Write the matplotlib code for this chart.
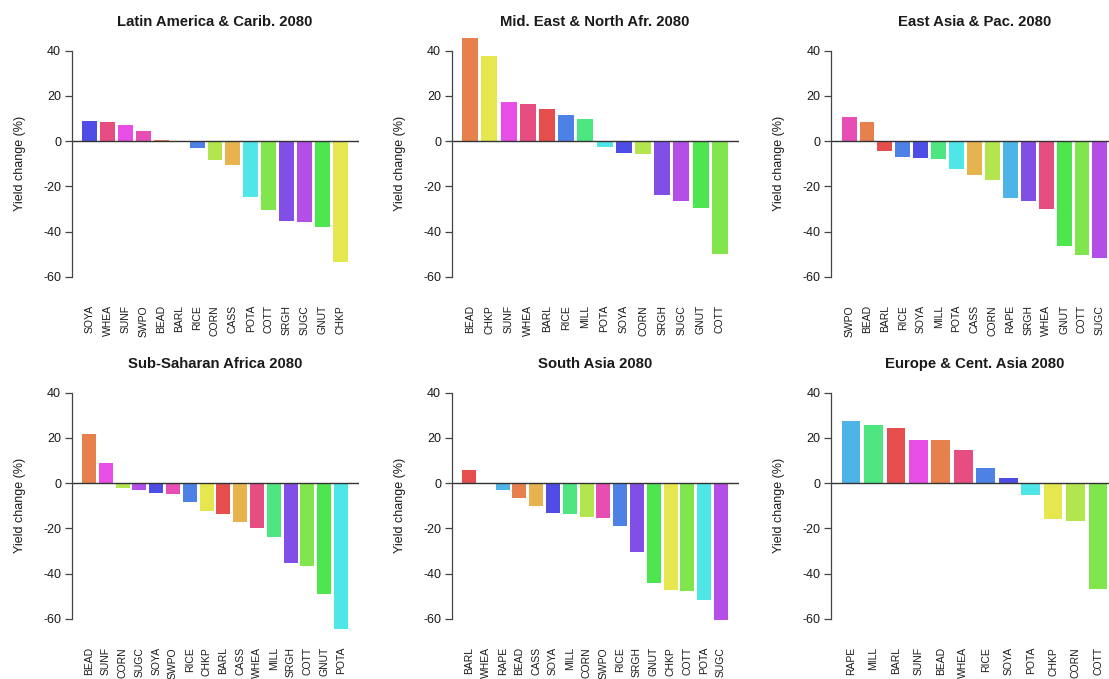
import colorsys
import numpy as np
import matplotlib
matplotlib.use("Agg")
import matplotlib.pyplot as plt

plt.rcParams['font.family'] = ['Liberation Sans', 'DejaVu Sans']
plt.rcParams['axes.unicode_minus'] = False

# crop list (alphabetical); hue index in an 18-step rainbow (160 deg unused)
crops_all = ['BARL', 'BEAD', 'CASS', 'CHKP', 'CORN', 'COTT', 'GNUT', 'MILL', 'POTA',
             'RAPE', 'RICE', 'SOYA', 'SRGH', 'SUGC', 'SUNF', 'SWPO', 'WHEA']
hue_idx = [0, 1, 2, 3, 4, 5, 6, 7, 9, 10, 11, 12, 13, 14, 15, 16, 17]

latam_crops = ['SOYA', 'WHEA', 'SUNF', 'SWPO', 'BEAD', 'BARL', 'RICE', 'CORN', 'CASS',
               'POTA', 'COTT', 'SRGH', 'SUGC', 'GNUT', 'CHKP']
latam_vals = [9.0, 8.5, 7.1, 4.3, 0.6, 0.1, -2.9, -8.5, -10.7, -24.6, -30.3, -35.4,
              -35.7, -38.1, -53.4]

mena_crops = ['BEAD', 'CHKP', 'SUNF', 'WHEA', 'BARL', 'RICE', 'MILL', 'POTA', 'SOYA',
              'CORN', 'SRGH', 'SUGC', 'GNUT', 'COTT']
mena_vals = [45.4, 37.8, 17.2, 16.2, 14.1, 11.5, 9.7, -2.4, -5.1, -5.9, -23.7, -26.5,
             -29.7, -49.9]

eap_crops = ['SWPO', 'BEAD', 'BARL', 'RICE', 'SOYA', 'MILL', 'POTA', 'CASS', 'CORN',
             'RAPE', 'SRGH', 'WHEA', 'GNUT', 'COTT', 'SUGC']
eap_vals = [10.6, 8.5, -4.3, -6.9, -7.4, -7.8, -12.2, -15.0, -17.1, -25.0, -26.5,
            -30.0, -46.3, -50.4, -51.9]

ssa_crops = ['BEAD', 'SUNF', 'CORN', 'SUGC', 'SOYA', 'SWPO', 'RICE', 'CHKP', 'BARL',
             'CASS', 'WHEA', 'MILL', 'SRGH', 'COTT', 'GNUT', 'POTA']
ssa_vals = [21.6, 9.1, -2.2, -3.2, -4.4, -4.7, -8.5, -12.5, -13.7, -17.1, -19.7,
            -24.0, -35.1, -36.8, -48.8, -64.7]

sas_crops = ['BARL', 'WHEA', 'RAPE', 'BEAD', 'CASS', 'SOYA', 'MILL', 'CORN', 'SWPO',
             'RICE', 'SRGH', 'GNUT', 'CHKP', 'COTT', 'POTA', 'SUGC']
sas_vals = [6.0, 0.1, -2.8, -6.5, -9.9, -13.2, -13.7, -15.0, -15.4, -19.1, -30.4,
            -44.1, -47.1, -47.6, -51.5, -60.4]

eca_crops = ['RAPE', 'MILL', 'BARL', 'SUNF', 'BEAD', 'WHEA', 'RICE', 'SOYA', 'POTA',
             'CHKP', 'CORN', 'COTT']
eca_vals = [27.4, 25.6, 24.4, 19.0, 19.0, 14.6, 6.9, 2.5, -5.3, -15.9, -16.6, -46.9]

panels = [
    ('Latin America & Carib. 2080', latam_crops, latam_vals),
    ('Mid. East & North Afr. 2080', mena_crops, mena_vals),
    ('East Asia & Pac. 2080', eap_crops, eap_vals),
    ('Sub-Saharan Africa 2080', ssa_crops, ssa_vals),
    ('South Asia 2080', sas_crops, sas_vals),
    ('Europe & Cent. Asia 2080', eca_crops, eca_vals),
]

colors = {}
for c, h in zip(crops_all, hue_idx):
    colors[c] = colorsys.hsv_to_rgb(h / 18, 0.66, 0.9)

W, H = 1109, 679
fig = plt.figure(figsize=(W / 100, H / 100), dpi=100)

lefts = [71.5, 451.5, 831.0]
tops = [29.4, 371.5]
aw, ah = 287.0, 268.6
txt = '#1a1a1a'

for k, (title, crops, vals) in enumerate(panels):
    r, c = divmod(k, 3)
    ax = fig.add_axes([lefts[c] / W, 1 - (tops[r] + ah) / H, aw / W, ah / H])
    n = len(crops)
    x = 0.7 + 1.2 * np.arange(n)
    span = 1.2 * n - 0.2
    ax.bar(x, vals, width=1.0, color=[colors[cr] for cr in crops], linewidth=0)
    ax.set_xlim(0.2 - 0.04 * span, 1.2 * n + 0.04 * span)
    ax.set_ylim(-69.4, 49.4)
    ax.axhline(0, color='#333333', lw=1.0)
    for s in ['top', 'right', 'bottom']:
        ax.spines[s].set_visible(False)
    ax.spines['left'].set_bounds(-60, 40)
    ax.spines['left'].set_color('#444444')
    ax.spines['left'].set_linewidth(0.9)
    ax.set_yticks([-60, -40, -20, 0, 20, 40])
    ax.tick_params(axis='y', length=5, width=0.9, color='#444444', pad=2.5,
                   labelsize=9, labelcolor=txt)
    ax.set_xticks(x)
    ax.set_xticklabels(crops, rotation=90, fontsize=7.5, color=txt)
    ax.tick_params(axis='x', length=0, pad=5)
    ax.set_ylabel('Yield change (%)', fontsize=9, color=txt)
    ax.yaxis.set_label_coords(-0.16, 0.5)
    ax.set_title(title, fontsize=10.7, fontweight='bold', color=txt, pad=1.5)

fig.savefig('out.png', dpi=100)
